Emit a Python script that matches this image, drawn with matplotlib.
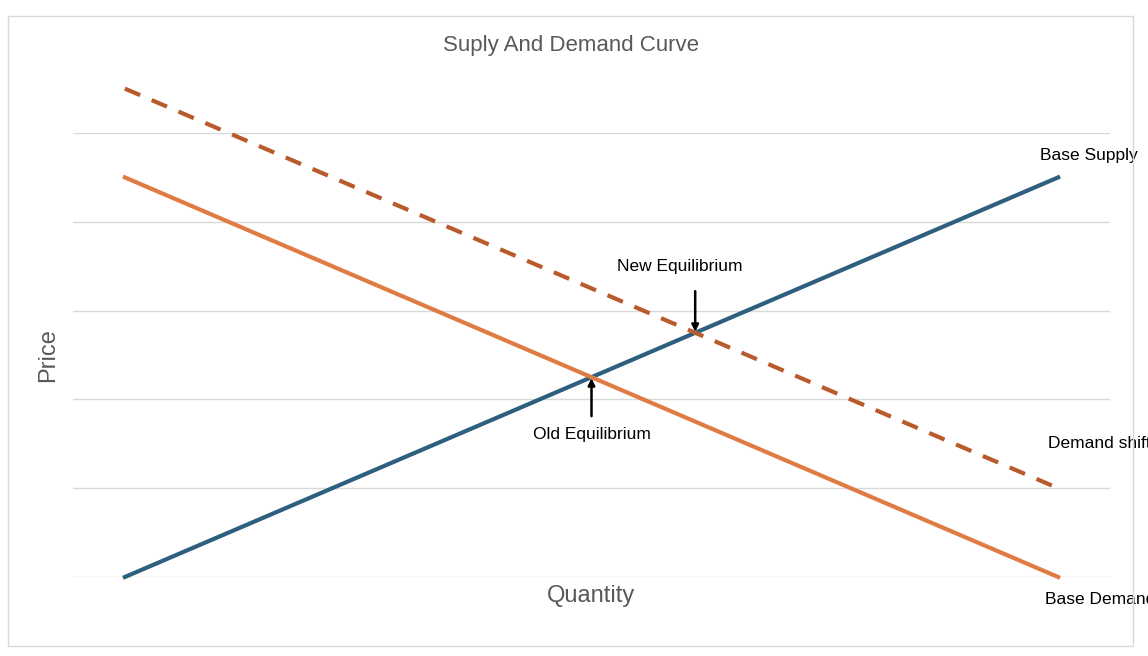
import matplotlib
matplotlib.use('Agg')
import matplotlib.pyplot as plt
from matplotlib.patches import Rectangle
import numpy as np

plt.rcParams['font.family'] = ['Liberation Sans', 'DejaVu Sans']

q = np.arange(10)
supply = [0, 0.5, 1, 1.5, 2, 2.5, 3, 3.5, 4, 4.5]
demand = [4.5, 4, 3.5, 3, 2.5, 2, 1.5, 1, 0.5, 0]
shift = [5.5, 5, 4.5, 4, 3.5, 3, 2.5, 2, 1.5, 1]

fig = plt.figure(figsize=(11.48, 6.56), dpi=100)
ax = fig.add_axes([73/1148, 1 - 577/656, (1110-73)/1148, (577-133)/656])
ax.set_xlim(-0.5, 9.5)
ax.set_ylim(0, 5)
for y in range(6):
    ax.axhline(y, color='#d9d9d9', lw=1, zorder=0)

ax.plot(q, supply, color='#2e5f7f', lw=3, clip_on=False)
ax.plot(q, demand, color='#e07b43', lw=3, clip_on=False)
ax.plot(q, shift, color='#b85a2c', lw=3, ls=(0, (4, 3)), clip_on=False)

ax.annotate('', xy=(4.5, 2.27), xytext=(4.5, 1.78),
            arrowprops=dict(arrowstyle='-|>', color='black', lw=1.8))
ax.text(4.5, 1.6, 'Old Equilibrium', ha='center', va='center', fontsize=12.5)
ax.annotate('', xy=(5.5, 2.73), xytext=(5.5, 3.25),
            arrowprops=dict(arrowstyle='-|>', color='black', lw=1.8))
ax.text(5.35, 3.5, 'New Equilibrium', ha='center', va='center', fontsize=12.5)

ax.text(9.3, 4.75, 'Base Supply', ha='center', va='center', fontsize=12.5, clip_on=False)
ax.text(9.4, 1.5, 'Demand shift', ha='center', va='center', fontsize=12.5, clip_on=False)
ax.text(9.4, -0.25, 'Base Demand', ha='center', va='center', fontsize=12.5, clip_on=False)

for s in ax.spines.values():
    s.set_visible(False)
ax.set_xticks([])
ax.set_yticks([])
ax.set_xlabel('Quantity', fontsize=17, color='#595959', labelpad=6)
ax.set_ylabel('Price', fontsize=17, color='#595959', labelpad=10)
fig.text(571/1148, 1 - 46/656, 'Suply And Demand Curve', ha='center', va='center',
         fontsize=16, color='#595959')
fig.patches.append(Rectangle((8/1148, 10/656), 1125/1148, 630/656, transform=fig.transFigure,
                             fill=False, edgecolor='#d9d9d9', lw=1))
fig.savefig('out.png', dpi=100)
